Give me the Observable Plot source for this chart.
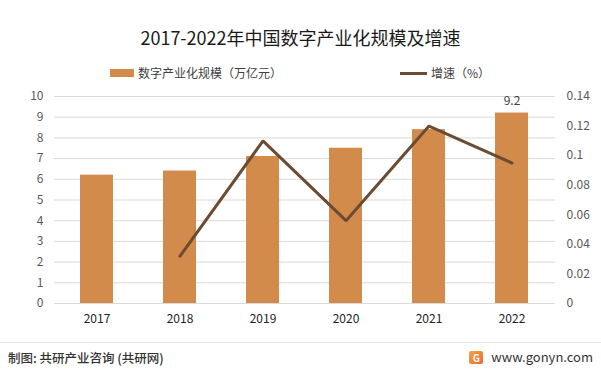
<!DOCTYPE html>
<html>
<head>
<meta charset="utf-8">
<script src="https://cdn.jsdelivr.net/npm/d3@7"></script>
<script src="https://cdn.jsdelivr.net/npm/@observablehq/plot@0.6"></script>
<style>
  html, body { margin: 0; padding: 0; background: #fff; }
  body { width: 601px; height: 375px; position: relative; overflow: hidden;
         font-family: "Noto Sans CJK SC", "Noto Sans", sans-serif; color: #404040; }
  .abs { position: absolute; white-space: nowrap; }
  #title { left: 0; width: 601px; top: 24px; text-align: center; font-size: 18px; color: #1a1a1a; line-height: 26px; }
  .leg { top: 64px; font-size: 12px; line-height: 18px; color: #404040; display: flex; align-items: center; }
  .sw-bar { width: 24px; height: 8px; background: #D38B4C; margin-right: 4px; }
  .sw-line { width: 27px; height: 3px; background: #6B4B32; margin-right: 4px; }
  #chart { left: 0; top: 80px; }
  #sep { left: 0; top: 342px; width: 601px; height: 1px; background: #e6e6e6; }
  #src { left: 8px; top: 349px; font-size: 12.5px; line-height: 18px; color: #333; font-weight: 500; }
  #site { right: 8px; top: 348px; font-size: 13px; line-height: 18px; color: #333; display: flex; align-items: center; }
  .logo { width: 14px; height: 13px; background: linear-gradient(135deg, #F7A24A, #EE6A2C); color: #fff; font-size: 10px; font-weight: bold;
          line-height: 13px; text-align: center; margin-right: 8px; border-radius: 2px; }
</style>
</head>
<body>
<div id="title" class="abs">2017-2022年中国数字产业化规模及增速</div>
<div class="abs leg" style="left:110px;"><span class="sw-bar"></span>数字产业化规模（万亿元）</div>
<div class="abs leg" style="left:400px;"><span class="sw-line"></span>增速（%）</div>
<div id="chart" class="abs"></div>
<div id="sep" class="abs"></div>
<div id="src" class="abs">制图: 共研产业咨询 (共研网)</div>
<div id="site" class="abs"><span class="logo">G</span>www.gonyn.com</div>
<script>
const years = ["2017", "2018", "2019", "2020", "2021", "2022"];
const scale = [6.2, 6.4, 7.1, 7.5, 8.4, 9.2];
const growthYears = ["2018", "2019", "2020", "2021", "2022"];
const growth = [0.032, 0.11, 0.056, 0.12, 0.095];
const leftTicks = [0, 1, 2, 3, 4, 5, 6, 7, 8, 9, 10];
const rightTicks = [0, 0.02, 0.04, 0.06, 0.08, 0.1, 0.12, 0.14];
const rightMax = 0.14, leftMax = 10;
const labelYears = ["2022"];
const labelValues = [9.2];

const bars = years.map((y, i) => ({year: y, value: scale[i]}));
const line = growthYears.map((y, i) => ({year: y, value: growth[i] / rightMax * leftMax}));
const labels = labelYears.map((y, i) => ({year: y, value: labelValues[i]}));

const chart = Plot.plot({
  width: 601,
  height: 253,
  marginTop: 16,
  marginBottom: 30,
  marginLeft: 54,
  marginRight: 46,
  style: {fontFamily: "'Noto Sans CJK SC', 'Noto Sans', sans-serif", fontSize: "12px", color: "#595959", background: "transparent"},
  x: {domain: years, paddingInner: 0.6, paddingOuter: 0.3, label: null},
  y: {domain: [0, leftMax], label: null},
  marks: [
    Plot.gridY(leftTicks, {stroke: "#d9d9d9", strokeOpacity: 1, strokeWidth: 1}),
    Plot.barY(bars, {x: "year", y: "value", fill: "#D38B4C"}),
    Plot.line(line, {x: "year", y: "value", stroke: "#6B4B32", strokeWidth: 3, strokeLinejoin: "miter"}),
    Plot.text(labels, {x: "year", y: "value", text: d => String(d.value), dy: -12, fill: "#404040", fontSize: 12}),
    Plot.axisY({ticks: leftTicks, anchor: "left", tickSize: 0, tickPadding: 11, fill: "#595959", fontSize: 12}),
    Plot.axisY({ticks: rightTicks.map(v => v / rightMax * leftMax), anchor: "right", tickSize: 0, tickPadding: 11,
      tickFormat: v => String(+(v / leftMax * rightMax).toFixed(2)), fill: "#595959", fontSize: 12}),
    Plot.axisX({tickSize: 0, tickPadding: 11, fill: "#222", fontSize: 12})
  ]
});
document.getElementById("chart").appendChild(chart);
</script>
</body>
</html>
